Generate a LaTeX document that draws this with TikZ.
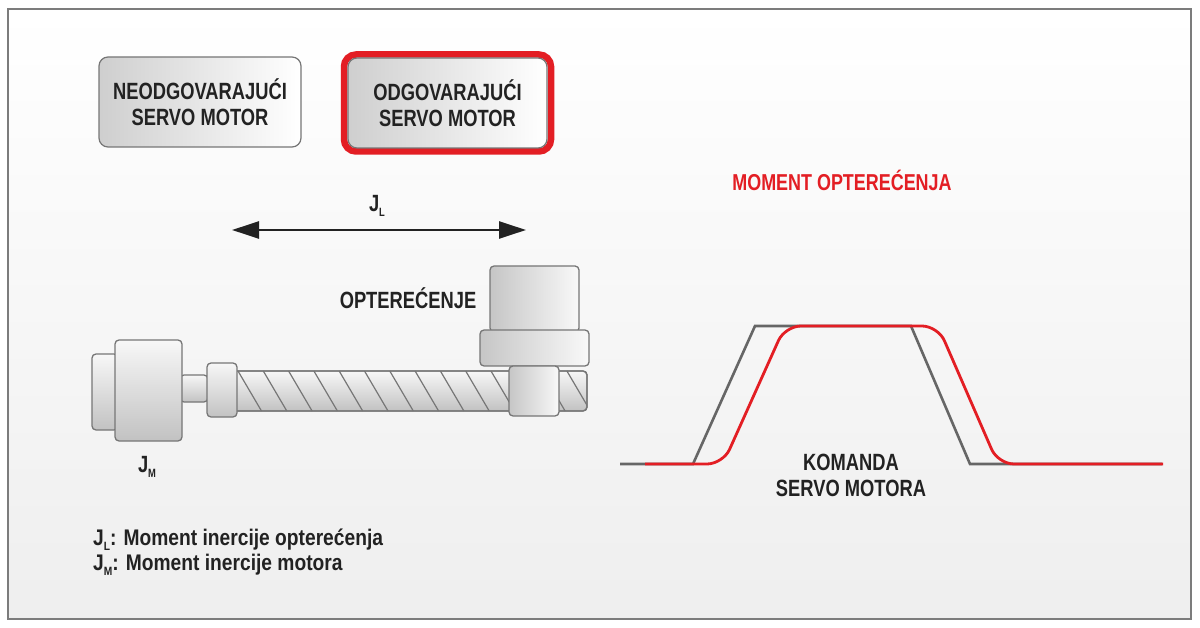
\documentclass[tikz,border=0pt]{standalone}
\usepackage{fontspec}
\usetikzlibrary{arrows.meta}
\newfontfamily\cf{Liberation Sans}[FakeStretch=0.78]
\newfontfamily\cfl{Liberation Sans}[FakeStretch=0.85]
\definecolor{txt}{HTML}{222222}
\definecolor{edge}{HTML}{767676}
\definecolor{fr}{HTML}{7C7C7C}
\definecolor{rd}{HTML}{E31E24}
\definecolor{gl}{HTML}{666666}
\newcommand{\subl}[1]{\raisebox{-5pt}{\fontsize{12}{12}\selectfont #1}}
\tikzset{
  box/.style={draw=edge, line width=1.2pt, rounded corners=9pt, left color=gray!38, right color=white,
    align=center, text=txt, font=\cf\bfseries\fontsize{23.5}{26}\selectfont, inner sep=0pt},
  lbl/.style={text=txt, font=\cf\bfseries\fontsize{23.5}{26}\selectfont, inner sep=0pt, align=center},
  leg/.style={text=txt, font=\cfl\bfseries\fontsize{22.6}{24}\selectfont, inner sep=0pt, anchor=west},
  vpart/.style={draw=edge, line width=1.3pt, rounded corners=4pt, top color=gray!6, bottom color=gray!48},
  hpart/.style={draw=edge, line width=1.3pt, rounded corners=4pt, left color=gray!45, right color=gray!5},
  gline/.style={draw=gl, line width=2.6pt},
  rline/.style={draw=rd, line width=2.8pt, rounded corners=16pt},
}
\begin{document}
\begin{tikzpicture}[x=1pt,y=-1pt]
\useasboundingbox (0,0) rectangle (1200,628);
\fill[white] (0,0) rectangle (1200,628);
\shade[top color=white, bottom color=gray!13] (8,9) rectangle (1191,619);
\draw[fr, line width=2pt] (8,9) rectangle (1191,619);

% top boxes
\node[box, minimum width=202pt, minimum height=90pt] (bad) at (200,102) {NEODGOVARAJUĆI\\SERVO MOTOR};
\node[draw=rd, line width=6.5pt, rounded corners=12pt, minimum width=207pt, minimum height=97pt, inner sep=0pt] (goodframe) at (447.5,103) {};
\node[box, minimum width=199pt, minimum height=90pt] (good) at (447.5,103) {ODGOVARAJUĆI\\SERVO MOTOR};

% J_L arrow
\coordinate (al) at (232,230);
\coordinate (ar) at (526,230);
\draw[txt, line width=2.6pt, {Triangle[length=27pt,width=17pt]}-{Triangle[length=27pt,width=17pt]}] (al) -- (ar);
\node[lbl] (jl) at (377,206) {J\subl{L}};

% mechanism
\begin{scope}
\path[vpart] (230,371) rectangle (587,411);
\clip[rounded corners=4pt] (230,371) rectangle (587,411);
\foreach \xx in {238,263.3,...,570} {
  \draw[edge, line width=1.2pt] (\xx,371) -- (\xx+23.5,411);
}
\end{scope}
\draw[edge, line width=1.3pt, rounded corners=4pt] (230,371) rectangle (587,411);
\path[vpart] (180,375) rectangle (208,402);
\path[vpart] (207,363) rectangle (237,417);
\path[vpart] (92,354) rectangle (118,430);
\path[vpart] (115,340) rectangle (182,441);
\path[hpart] (490,266) rectangle (579,332);
\path[hpart] (480,330) rectangle (589,366);
\path[hpart] (509,366) rectangle (559,416);

\node[lbl] (load) at (408,298) {OPTEREĆENJE};
\node[lbl] (jm) at (147,467) {J\subl{M}};

% graph
\node[text=rd, font=\cf\bfseries\fontsize{23}{26}\selectfont, inner sep=0pt] (mom) at (842,180) {MOMENT OPTEREĆENJA};
\draw[gline] (620,464) -- (693,464) -- (755,326) -- (911,326) -- (970,464) -- (1162,464);
\draw[rline] (645,464) -- (723,464) -- (785,326) -- (938,326) -- (998,464) -- (1163,464);
\node[lbl] (cmd) at (851,475) {KOMANDA\\SERVO MOTORA};

% legend
\node[leg] (leg1) at (93,540) {J\subl{L}: Moment inercije opterećenja};
\node[leg] (leg2) at (93,565) {J\subl{M}: Moment inercije motora};
\end{tikzpicture}
\end{document}
